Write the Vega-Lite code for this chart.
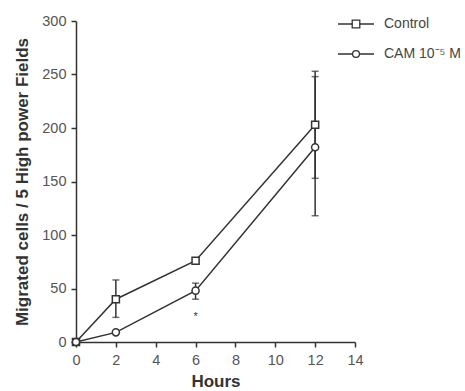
{
  "$schema": "https://vega.github.io/schema/vega-lite/v6.json",
  "width": 279,
  "height": 321,
  "autosize": {"type": "none"},
  "padding": {"left": 76, "top": 21, "right": 110, "bottom": 49},
  "background": "white",
  "config": {
    "view": {"stroke": null},
    "font": "Liberation Sans",
    "axis": {
      "grid": false,
      "domainColor": "#333",
      "domainWidth": 1.5,
      "tickColor": "#333",
      "tickWidth": 1.5,
      "tickSize": 5,
      "labelColor": "#555",
      "labelFontSize": 14.5,
      "labelFlush": false,
      "titleFontSize": 17,
      "titleFontWeight": "bold",
      "titleColor": "#333"
    }
  },
  "datasets": {
    "pts": [
      {"hours": 0, "group": "Control", "value": 0},
      {"hours": 2, "group": "Control", "value": 40},
      {"hours": 6, "group": "Control", "value": 76},
      {"hours": 12, "group": "Control", "value": 203},
      {"hours": 0, "group": "CAM 10⁻⁵ M", "value": 0},
      {"hours": 2, "group": "CAM 10⁻⁵ M", "value": 9},
      {"hours": 6, "group": "CAM 10⁻⁵ M", "value": 48},
      {"hours": 12, "group": "CAM 10⁻⁵ M", "value": 182}
    ],
    "errs": [
      {"hours": 2, "group": "Control", "lo": 23, "hi": 58},
      {"hours": 12, "group": "Control", "lo": 153, "hi": 253},
      {"hours": 6, "group": "CAM 10⁻⁵ M", "lo": 40, "hi": 55},
      {"hours": 12, "group": "CAM 10⁻⁵ M", "lo": 118, "hi": 248}
    ],
    "marks": [
      {"hours": 6, "value": 23, "label": "*"}
    ]
  },
  "encoding": {
    "x": {
      "type": "quantitative",
      "scale": {"domain": [0, 14], "nice": false},
      "axis": {"values": [0, 2, 4, 6, 8, 10, 12, 14], "title": "Hours", "titlePadding": 7, "labelPadding": 6}
    }
  },
  "resolve": {"scale": {"shape": "independent"}},
  "layer": [
    {
      "data": {"name": "errs"},
      "mark": {"type": "errorbar", "ticks": {"size": 7, "color": "#333", "thickness": 1.5}, "rule": {"color": "#333", "strokeWidth": 1.5}},
      "encoding": {
        "x": {"field": "hours", "type": "quantitative", "title": "Hours"},
        "y": {"field": "lo", "type": "quantitative", "title": "Migrated cells / 5 High power Fields"},
        "y2": {"field": "hi"}
      }
    },
    {
      "data": {"name": "pts"},
      "mark": {"type": "line", "color": "#333", "strokeWidth": 1.5},
      "encoding": {
        "x": {"field": "hours", "type": "quantitative", "title": "Hours"},
        "y": {"field": "value", "type": "quantitative", "title": "Migrated cells / 5 High power Fields"},
        "detail": {"field": "group"}
      }
    },
    {
      "data": {"name": "pts"},
      "mark": {"type": "point", "filled": true, "fill": "white", "stroke": "#333", "strokeWidth": 1.5, "opacity": 1},
      "encoding": {
        "x": {"field": "hours", "type": "quantitative", "title": "Hours"},
        "y": {
          "field": "value", "type": "quantitative",
          "scale": {"domain": [0, 300], "nice": false},
          "axis": {"values": [0, 50, 100, 150, 200, 250, 300], "titlePadding": 10, "labelPadding": 5},
          "title": "Migrated cells / 5 High power Fields"
        },
        "shape": {
          "field": "group", "type": "nominal",
          "scale": {"domain": ["Control", "CAM 10⁻⁵ M"], "range": ["square", "circle"]},
          "legend": null
        },
        "size": {"value": 50}
      }
    },
    {
      "data": {"name": "pts"},
      "mark": {"type": "point", "filled": false, "stroke": "#333", "strokeWidth": 1.3, "opacity": 0},
      "encoding": {
        "x": {"field": "hours", "type": "quantitative", "title": "Hours"},
        "y": {"field": "value", "type": "quantitative", "title": "Migrated cells / 5 High power Fields"},
        "shape": {
          "field": "group", "type": "nominal",
          "scale": {"domain": ["Control", "CAM 10⁻⁵ M"], "range": ["M-2,0H-0.42M0.42,0H2M-0.42,-0.42H0.42V0.42H-0.42Z", "M-2,0H-0.38M0.38,0H2M-0.38,0A0.38,0.38,0,1,0,0.38,0A0.38,0.38,0,1,0,-0.38,0Z"]},
          "legend": {
            "title": null,
            "orient": "none",
            "legendX": 270,
            "legendY": -7,
            "padding": 0,
            "symbolSize": 324,
            "rowPadding": 13,
            "labelOffset": 18,
            "labelFontSize": 14,
            "labelColor": "#444",
            "labelFont": "Liberation Sans",
            "symbolStrokeColor": "#333",
            "symbolFillColor": "white",
            "symbolStrokeWidth": 1.3,
            "symbolOpacity": 1,
            "encode": {
              "symbols": {
                "update": {
                  "opacity": {"value": 1},
                  "fill": {"value": "white"},
                  "stroke": {"value": "#333"},
                  "size": {"value": 324}
                }
              }
            }
          }
        }
      }
    },
    {
      "data": {"name": "marks"},
      "mark": {"type": "text", "fontSize": 11, "color": "#333", "baseline": "middle"},
      "encoding": {
        "x": {"field": "hours", "type": "quantitative", "title": "Hours"},
        "y": {"field": "value", "type": "quantitative", "title": "Migrated cells / 5 High power Fields"},
        "text": {"field": "label"}
      }
    }
  ]
}
